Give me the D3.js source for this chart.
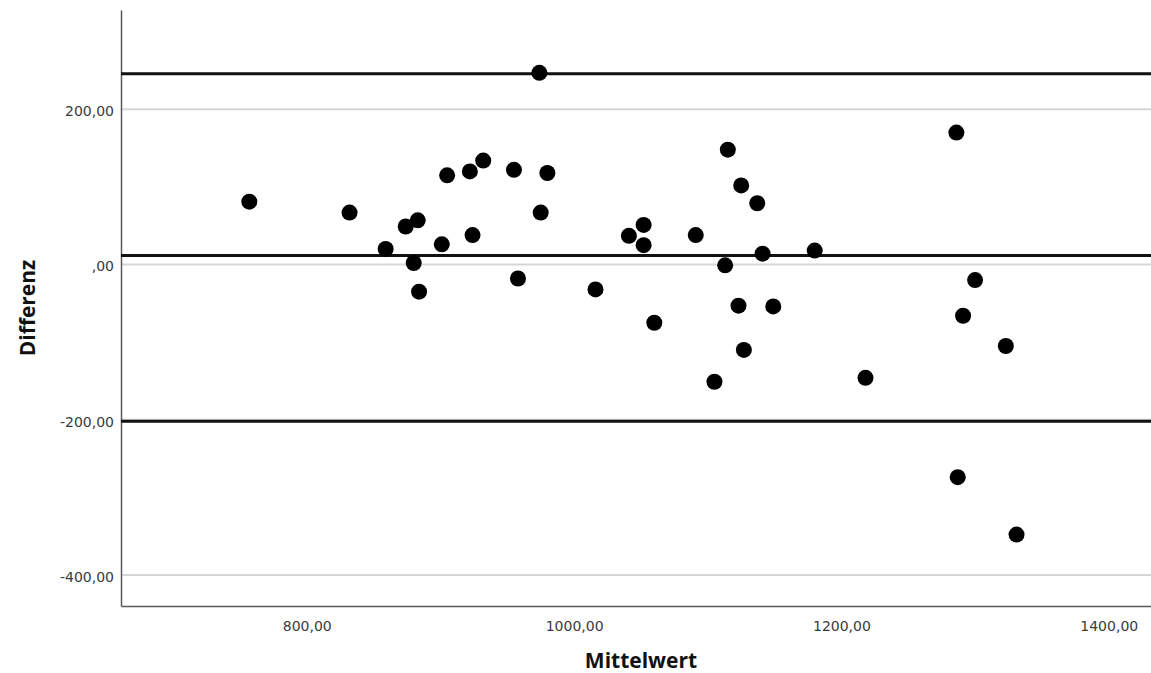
<!DOCTYPE html>
<html>
<head>
<meta charset="utf-8">
<script src="https://cdn.jsdelivr.net/npm/d3@7"></script>
<style>
  body { margin: 0; background: #fff; }
  .tick-label { font-family: "DejaVu Sans", sans-serif; font-size: 14px; fill: #3a3a3a; }
  .axis-title { font-family: "Open Sans", sans-serif; font-weight: bold; font-size: 21px; fill: #111; }
</style>
</head>
<body>
<script>
const w = 1151;
const h = 673;

// Mittelwert (mean of both measurements) and Differenz per case
const mittelwert = [757, 832, 859, 874, 883, 880, 884, 905, 901, 922, 932, 924,
  974, 955, 980, 975, 958, 1041, 1052, 1052, 1091, 1016, 1060, 1115, 1125, 1137,
  1113, 1141, 1123, 1149, 1127, 1105, 1180, 1218, 1286, 1300, 1291, 1323, 1287, 1331];
const differenz = [81, 67, 20, 49, 57, 2, -35, 115, 26, 120, 134, 38,
  247, 122, 118, 67, -18, 37, 51, 25, 38, -32, -75, 148, 102, 79,
  -1, 14, -53, -54, -110, -151, 18, -146, 170, -20, -66, -105, -274, -348];

// mean difference and limits of agreement
const refLines = [246, 11.5, -202];

const xTicks = [800, 1000, 1200, 1400];
const yTicks = [200, 0, -200, -400];

const margin = {left: 121, right: 0, top: 10, bottom: 67};

const x = d3.scaleLinear()
  .domain([661, 1431.6])
  .range([margin.left, w - margin.right]);

const y = d3.scaleLinear()
  .domain([-440, 328])
  .range([h - margin.bottom, margin.top]);

const locale = d3.formatLocale({decimal: ',', thousands: '', grouping: [3], currency: ['', ''], minus: '-'});
const fmt = v => locale.format('.2f')(v).replace(/^0,/, ',');

const svg = d3.select('body').append('svg')
  .attr('width', w)
  .attr('height', h);

// grid lines
svg.selectAll('line.grid')
  .data(yTicks)
  .enter().append('line')
    .attr('class', 'grid')
    .attr('x1', margin.left)
    .attr('x2', w - margin.right)
    .attr('y1', d => y(d))
    .attr('y2', d => y(d))
    .style('stroke', '#d6d6d6')
    .style('stroke-width', 2);

// axes (no tick marks, labels only)
const xAxis = svg.append('g')
  .attr('transform', `translate(0,${h - margin.bottom})`)
  .call(d3.axisBottom(x).tickValues(xTicks).tickFormat(fmt).tickSize(0).tickPadding(10));

const yAxis = svg.append('g')
  .attr('transform', `translate(${margin.left},0)`)
  .call(d3.axisLeft(y).tickValues(yTicks).tickFormat(fmt).tickSize(0).tickPadding(7));

[xAxis, yAxis].forEach(g => {
  g.select('.domain').style('stroke', '#5a5a5a').style('stroke-width', 1.5);
  g.selectAll('text').attr('class', 'tick-label').attr('fill', null);
});
xAxis.selectAll('text').attr('dy', '1.05em');
yAxis.selectAll('text').attr('dy', '0.45em');

// reference lines
svg.selectAll('line.ref')
  .data(refLines)
  .enter().append('line')
    .attr('class', 'ref')
    .attr('x1', margin.left)
    .attr('x2', w - margin.right)
    .attr('y1', d => y(d))
    .attr('y2', d => y(d))
    .style('stroke', '#111')
    .style('stroke-width', 3);

// points
svg.selectAll('circle.pt')
  .data(mittelwert.map((m, i) => [m, differenz[i]]))
  .enter().append('circle')
    .attr('class', 'pt')
    .attr('cx', d => x(d[0]))
    .attr('cy', d => y(d[1]))
    .attr('r', 8)
    .style('fill', '#000');

// axis titles
svg.append('text')
  .attr('class', 'axis-title')
  .attr('x', (margin.left + w) / 2 + 5)
  .attr('y', 668)
  .attr('text-anchor', 'middle')
  .text('Mittelwert');

svg.append('text')
  .attr('class', 'axis-title')
  .attr('transform', `translate(35,${(margin.top + h - margin.bottom) / 2}) rotate(-90)`)
  .attr('text-anchor', 'middle')
  .text('Differenz');
</script>
</body>
</html>
